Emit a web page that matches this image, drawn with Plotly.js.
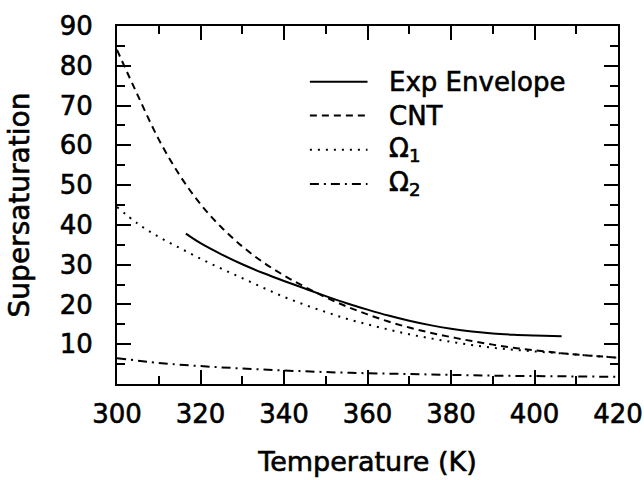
<!DOCTYPE html>
<html>
<head>
<meta charset="utf-8">
<script src="https://cdn.plot.ly/plotly-3.0.1.min.js"></script>
<style>
html,body{margin:0;padding:0;background:#fff;}
#chart{width:644px;height:480px;}
#chart svg text{stroke:#000;stroke-width:0.6px;}
</style>
</head>
<body>
<div id="chart"></div>
<script>
// Data
const tempGrid = [300,305,310,315,320,325,330,335,340,345,350,355,360,365,370,375,380,385,390,395,400,405,410,415,420];
const cntValues = [84,72.5,61.5,52.5,45.2,39.4,34.6,30.6,27.3,24.4,21.8,19.5,17.5,15.7,14.2,12.9,11.8,10.8,9.9,9.1,8.5,7.9,7.4,7.0,6.6];
const omega1Values = [44.5,40.3,37.0,34.2,31.5,29.0,26.6,24.2,21.9,19.9,18.1,16.4,15.0,13.7,12.5,11.5,10.6,9.8,9.1,8.6,8.2,7.8,7.4,7.0,6.6];
const expTemps = [316.5,320,325,330,335,340,345,350,355,360,365,370,375,380,385,390,395,400,406.5];
const expValues = [37.8,35.4,32.6,30.1,27.9,25.9,24.0,22.1,20.3,18.7,17.2,15.9,14.8,13.9,13.2,12.7,12.4,12.2,12.0];
const omega2Temps = [300,310,320,330,340,350,360,370,380,390,400,410,420];
const omega2Values = [6.5,5.3,4.5,3.9,3.4,3.0,2.7,2.5,2.3,2.1,2.0,1.9,1.8];
const xTickVals = [300,320,340,360,380,400,420];
const yTickVals = [10,20,30,40,50,60,70,80,90];
const legendNames = ['Exp Envelope','CNT','Ω<sub>1</sub>','Ω<sub>2</sub>'];

const FONT = 'DejaVu Sans, sans-serif';
const dashes = ['solid','7px,5px','2px,6px','9px,5px,2px,5px'];

const traces = [
  {x: expTemps, y: expValues, name: 'Exp Envelope', mode:'lines', line:{color:'#000', width:2, dash:dashes[0], shape:'spline'}},
  {x: tempGrid, y: cntValues, name: 'CNT', mode:'lines', line:{color:'#000', width:2, dash:dashes[1], shape:'spline'}},
  {x: tempGrid, y: omega1Values, name: 'Ω1', mode:'lines', line:{color:'#000', width:2, dash:dashes[2], shape:'spline'}},
  {x: omega2Temps, y: omega2Values, name: 'Ω2', mode:'lines', line:{color:'#000', width:2, dash:dashes[3], shape:'spline'}}
];

// legend drawn as shapes + annotations (paper coords)
const rowsY = [0.844, 0.75, 0.654, 0.559];
const shapes = [];
const annotations = [];
for (let i = 0; i < 4; i++) {
  shapes.push({type:'line', xref:'paper', yref:'paper', x0:0.385, x1:0.5, y0:rowsY[i], y1:rowsY[i],
    line:{color:'#000', width:2, dash:dashes[i]}});
  annotations.push({xref:'paper', yref:'paper', x:0.538, y:rowsY[i], xanchor:'left', yanchor:'middle',
    text: legendNames[i], showarrow:false, font:{family:FONT, size:26, color:'#000'}});
}

const axisCommon = {
  showline:true, linecolor:'#000', linewidth:2, mirror:'ticks',
  ticks:'inside', ticklen:14, tickwidth:2, tickcolor:'#000',
  showgrid:false, zeroline:false,
  tickfont:{family:FONT, size:26, color:'#000'}
};

const layout = {
  width:644, height:480,
  margin:{l:117, r:26, t:26, b:96},
  paper_bgcolor:'#fff', plot_bgcolor:'#fff',
  showlegend:false,
  xaxis: Object.assign({}, axisCommon, {
    range:[300,420], tickmode:'array', tickvals:xTickVals,
    minor:{dtick:10, tick0:300, ticks:'inside', ticklen:8, tickwidth:2, tickcolor:'#000'},
    ticklabelstandoff:6,
    title:{text:'Temperature (K)\u00a0\u00a0', font:{family:FONT, size:27, color:'#000'}, standoff:24}
  }),
  yaxis: Object.assign({}, axisCommon, {
    range:[0,90], tickmode:'array', tickvals:yTickVals,
    minor:{dtick:5, tick0:0, ticks:'inside', ticklen:8, tickwidth:2, tickcolor:'#000'},
    ticklabelstandoff:17,
    title:{text:'Supersaturation\u00a0', font:{family:FONT, size:28, color:'#000'}, standoff:22}
  }),
  shapes: shapes,
  annotations: annotations
};

Plotly.newPlot('chart', traces, layout, {displayModeBar:false, staticPlot:true});
</script>
</body>
</html>
